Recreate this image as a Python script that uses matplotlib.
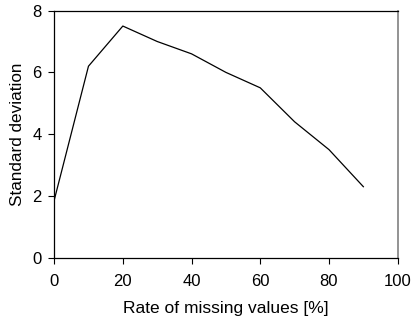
import matplotlib
matplotlib.use('Agg')
import matplotlib.pyplot as plt

# data
rate = [0, 10, 20, 30, 40, 50, 60, 70, 80, 90]
std_dev = [1.85, 6.2, 7.5, 7.0, 6.6, 6.0, 5.5, 4.4, 3.5, 2.3]
x_ticks = [0, 20, 40, 60, 80, 100]
y_ticks = [0, 2, 4, 6, 8]

plt.rcParams['font.family'] = ['Liberation Sans', 'DejaVu Sans']

fig = plt.figure(figsize=(4.13, 3.21), dpi=100)
ax = fig.add_axes([0.131, 0.197, 0.832, 0.770])

ax.plot(rate, std_dev, color='black', linewidth=0.9)

ax.set_xlim(0, 100)
ax.set_ylim(0, 8)
ax.set_xticks(x_ticks)
ax.set_yticks(y_ticks)
ax.tick_params(direction='out', length=4, width=0.8, labelsize=12)
ax.tick_params(axis='x', pad=8)
ax.tick_params(axis='y', pad=5)

ax.set_xlabel('Rate of missing values [%]', fontsize=12.5, labelpad=8)
ax.set_ylabel('Standard deviation', fontsize=12.3, labelpad=5)

for side in ['left', 'bottom', 'top']:
    ax.spines[side].set_linewidth(0.9)
ax.spines['right'].set_color('#808080')
ax.spines['right'].set_linewidth(1.2)

fig.savefig('out.png', dpi=100)
